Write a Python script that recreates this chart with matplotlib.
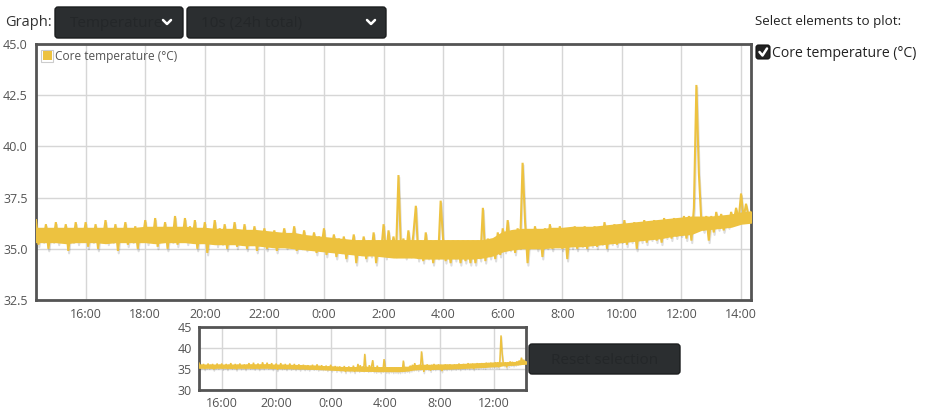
import numpy as np
import matplotlib
matplotlib.use("Agg")
import matplotlib.pyplot as plt
from matplotlib.patches import FancyBboxPatch, Rectangle
import matplotlib.patheffects as pe

plt.rcParams['font.family'] = ['Open Sans', 'DejaVu Sans']

# ---------------- data ----------------
series_name = "Core temperature (°C)"
start_hour = 14 + 20 / 60          # 14:20 on day 1
step_minutes = 5                   # spacing of the trace samples
band_step_minutes = 20             # spacing of the dense-body envelope samples

# trace values (5-min), showing the excursions/spikes
core_temp = [
    # 14:20 - 14:55
    36.4, 35.2, 36.0, 35.4, 36.2, 35.0, 35.9, 35.4,
    # 15:00
    36.3, 35.3, 36.0, 35.5, 36.2, 34.9, 35.9, 35.4, 36.3, 35.3, 36.0, 35.5,
    # 16:00
    36.3, 35.1, 35.9, 35.4, 36.2, 35.0, 36.0, 35.5, 36.4, 35.3, 35.9, 35.4,
    # 17:00
    36.2, 34.9, 36.0, 35.5, 36.3, 35.2, 35.9, 35.4, 36.1, 35.0, 36.0, 35.5,
    # 18:00
    36.4, 35.3, 36.0, 35.4, 36.5, 35.1, 35.9, 35.5, 36.3, 35.0, 36.0, 35.4,
    # 19:00
    36.6, 35.2, 36.0, 35.5, 36.5, 35.3, 36.1, 35.4, 36.4, 35.0, 35.9, 35.4,
    # 20:00
    36.3, 34.8, 35.9, 35.4, 36.4, 35.2, 36.0, 35.3, 36.2, 35.0, 35.9, 35.4,
    # 21:00
    36.3, 35.1, 35.8, 35.3, 36.2, 35.0, 35.9, 35.3, 36.1, 34.9, 35.8, 35.3,
    # 22:00
    36.0, 35.0, 35.8, 35.2, 35.9, 34.9, 35.7, 35.3, 36.0, 35.1, 35.7, 35.2,
    # 23:00
    36.1, 34.9, 35.7, 35.1, 35.9, 35.0, 35.6, 35.1, 35.8, 34.8, 35.6, 35.1,
    # 0:00
    36.0, 34.7, 35.5, 35.0, 35.7, 34.6, 35.5, 34.9, 35.6, 34.5, 35.4, 34.9,
    # 1:00
    35.7, 34.3, 35.4, 34.8, 35.6, 34.5, 35.4, 34.7, 35.8, 34.3, 35.4, 34.8,
    # 2:00
    36.2, 34.6, 35.9, 34.8, 35.6, 34.7, 38.6, 34.9, 35.5, 34.6, 35.9, 34.7,
    # 3:00
    35.7, 37.1, 34.5, 35.4, 34.4, 35.8, 34.6, 35.4, 34.3, 35.4, 34.6, 37.35,
    # 4:00
    35.4, 34.4, 35.4, 34.3, 35.4, 34.5, 35.4, 34.3, 35.4, 34.4, 35.4, 34.3,
    # 5:00
    35.4, 34.3, 35.4, 34.5, 37.0, 34.4, 35.5, 34.6, 35.4, 34.5, 35.8, 34.7,
    # 6:00
    36.0, 34.9, 36.4, 35.0, 35.9, 34.8, 36.0, 35.1, 39.2, 36.3, 34.3, 35.9,
    # 7:00
    35.2, 36.1, 35.0, 35.9, 34.6, 36.0, 35.1, 36.2, 35.0, 35.9, 35.2, 36.1,
    # 8:00
    35.0, 36.0, 34.5, 35.9, 35.1, 36.1, 35.0, 36.0, 35.2, 36.1, 35.0, 35.9,
    # 9:00
    35.2, 36.1, 35.1, 36.0, 35.3, 36.3, 35.0, 36.1, 35.3, 36.2, 35.2, 36.0,
    # 10:00
    35.4, 36.4, 35.2, 36.2, 35.4, 36.3, 35.0, 36.2, 35.4, 36.4, 35.3, 36.3,
    # 11:00
    35.5, 36.4, 35.4, 36.3, 35.3, 36.5, 35.6, 36.4, 35.5, 36.5, 35.6, 36.4,
    # 12:00
    35.7, 36.6, 35.5, 36.6, 35.4, 37.0, 43.0, 38.7, 36.3, 35.9, 36.6, 35.4,
    # 13:00
    36.6, 35.8, 36.8, 36.0, 36.7, 35.9, 36.5, 36.1, 36.8, 36.3, 37.0, 36.4,
    # 14:00 - 14:20
    37.7, 36.5, 37.2, 36.6, 36.8,
]

# dense body of the signal: upper / lower envelope every 20 min
band_high = [
    36.0, 36.0,
    36.0, 36.0, 36.0,      # 15
    36.0, 36.0, 36.0,      # 16
    36.0, 36.0, 36.0,      # 17
    36.05, 36.05, 36.05,   # 18
    36.05, 36.05, 36.0,    # 19
    36.0, 35.95, 35.95,    # 20
    35.95, 35.9, 35.9,     # 21
    35.85, 35.8, 35.75,    # 22
    35.75, 35.65, 35.6,    # 23
    35.55, 35.5, 35.45,    # 0
    35.4, 35.4, 35.4,      # 1
    35.4, 35.4, 35.4,      # 2
    35.4, 35.4, 35.4,      # 3
    35.4, 35.4, 35.4,      # 4
    35.4, 35.4, 35.5,      # 5
    35.8, 35.9, 35.95,     # 6
    35.95, 35.95, 36.0,    # 7
    36.0, 36.05, 36.05,    # 8
    36.05, 36.1, 36.15,    # 9
    36.2, 36.25, 36.3,     # 10
    36.35, 36.4, 36.45,    # 11
    36.5, 36.55, 36.55,    # 12
    36.55, 36.6, 36.65,    # 13
    36.75, 36.8,           # 14
]
band_low = [
    35.35, 35.35,
    35.35, 35.3, 35.35,    # 15
    35.35, 35.35, 35.3,    # 16
    35.35, 35.35, 35.35,   # 17
    35.35, 35.3, 35.35,    # 18
    35.35, 35.35, 35.3,    # 19
    35.3, 35.25, 35.25,    # 20
    35.25, 35.2, 35.2,     # 21
    35.15, 35.1, 35.1,     # 22
    35.05, 35.0, 34.95,    # 23
    34.9, 34.85, 34.8,     # 0
    34.75, 34.7, 34.7,     # 1
    34.65, 34.6, 34.6,     # 2
    34.6, 34.55, 34.55,    # 3
    34.55, 34.55, 34.55,   # 4
    34.55, 34.6, 34.7,     # 5
    34.9, 35.0, 35.05,     # 6
    35.05, 35.05, 35.1,    # 7
    35.1, 35.15, 35.15,    # 8
    35.2, 35.25, 35.3,     # 9
    35.35, 35.4, 35.45,    # 10
    35.5, 35.55, 35.65,    # 11
    35.7, 35.75, 35.95,    # 12
    36.0, 36.05, 36.1,     # 13
    36.25, 36.3,           # 14
]

main_yticks = [32.5, 35.0, 37.5, 40.0, 42.5, 45.0]
main_xticks = [16, 18, 20, 22, 24, 26, 28, 30, 32, 34, 36, 38]
main_xlabels = ["16:00", "18:00", "20:00", "22:00", "0:00", "2:00",
                "4:00", "6:00", "8:00", "10:00", "12:00", "14:00"]
ov_yticks = [30, 35, 40, 45]
ov_xticks = [16, 20, 24, 28, 32, 36]
ov_xlabels = ["16:00", "20:00", "0:00", "4:00", "8:00", "12:00"]
graph_choice = "Temperature"
period_choice = "10s (24h total)"
reset_label = "Reset selection"

# ---------------- figure ----------------
W, H = 925, 419
fig = plt.figure(figsize=(W / 100, H / 100), dpi=100)
fig.patch.set_facecolor("white")

def px_axes(x0, y0, x1, y1, **kw):
    return fig.add_axes([x0 / W, 1 - y1 / H, (x1 - x0) / W, (y1 - y0) / H], **kw)

LINE = "#edc240"
TXT = "#545454"
GRID = "#d6d6d6"
FRAME = "#545454"

t = start_hour + np.arange(len(core_temp)) * step_minutes / 60.0
vals = np.array(core_temp)
tb = start_hour + np.arange(len(band_high)) * band_step_minutes / 60.0
bh = np.array(band_high)
bl = np.array(band_low)
xlim = (start_hour, start_hour + 24)


def draw_series(a, lw, off):
    # shadows first (below everything), then the series itself
    a.plot(t, vals, color=LINE, lw=lw, zorder=2,
           path_effects=[pe.SimpleLineShadow(offset=(off * 0.33, -off),
                                             shadow_color="black", alpha=0.13)])
    a.fill_between(tb, bl, bh, color="none", lw=lw, zorder=2,
                   path_effects=[pe.SimplePatchShadow(offset=(off * 0.33, -off),
                                                      shadow_rgbFace="black", alpha=0.13)])
    a.fill_between(tb, bl, bh, color=LINE, lw=lw, edgecolor=LINE, zorder=3)
    a.plot(t, vals, color=LINE, lw=lw, solid_joinstyle="miter", zorder=4)


# main plot
ax = px_axes(36, 44, 751, 300)
draw_series(ax, 1.5, 1.8)
ax.set_xlim(*xlim)
ax.set_ylim(32.5, 45.0)
ax.set_yticks(main_yticks)
ax.set_yticklabels([f"{v:.1f}" for v in main_yticks])
ax.set_xticks(main_xticks)
ax.set_xticklabels(main_xlabels)
ax.grid(True, color=GRID, lw=1)
ax.tick_params(length=0, labelsize=9, colors=TXT, pad=6)
for s in ax.spines.values():
    s.set_color(FRAME)
    s.set_linewidth(2)

# overview plot
ov = px_axes(199, 327, 526, 390)
draw_series(ov, 1.1, 1.2)
ov.set_xlim(*xlim)
ov.set_ylim(30, 45)
ov.set_yticks(ov_yticks)
ov.set_xticks(ov_xticks)
ov.set_xticklabels(ov_xlabels)
ov.grid(True, color=GRID, lw=1)
ov.tick_params(length=0, labelsize=9, colors=TXT, pad=5)
for s in ov.spines.values():
    s.set_color(FRAME)
    s.set_linewidth(2)

# overlay in pixel coords
ovl = fig.add_axes([0, 0, 1, 1], zorder=10)
ovl.set_xlim(0, W)
ovl.set_ylim(H, 0)
ovl.axis("off")
ovl.patch.set_alpha(0)


def button(x0, y0, x1, y1, label, tx=None, chevron=None):
    ovl.add_patch(FancyBboxPatch((x0, y0), x1 - x0, y1 - y0,
                                 boxstyle="round,pad=0,rounding_size=3",
                                 fc="#2b2e30", ec="#1b1d1e", lw=1))
    if tx is None:
        ovl.text((x0 + x1) / 2, (y0 + y1) / 2 + 1, label, ha="center", va="center",
                 fontsize=11, color="#242729")
    else:
        ovl.text(tx, (y0 + y1) / 2 + 1, label, ha="left", va="center",
                 fontsize=11, color="#242729")
    if chevron is not None:
        cx, cy = chevron
        ovl.plot([cx - 4, cx, cx + 4], [cy - 2, cy + 2, cy - 2], color="white", lw=1.8,
                 solid_capstyle="round", solid_joinstyle="round")


ovl.text(5, 22, "Graph:", ha="left", va="center", fontsize=10.5, color="#333333")
button(55, 7, 183, 38, graph_choice, tx=70, chevron=(167, 22))
button(187, 7, 386, 38, period_choice, tx=201, chevron=(371, 22))
button(529, 344, 680, 374, reset_label)

# legend inside main plot
ovl.add_patch(Rectangle((41, 50), 12, 12, fc="white", ec="#cccccc", lw=0.8))
ovl.add_patch(Rectangle((42.5, 51.5), 9, 9, fc=LINE, ec="none"))
ovl.text(55, 56.5, series_name, ha="left", va="center", fontsize=8.6, color=TXT)

# right side selector
ovl.text(755, 22, "Select elements to plot:", ha="left", va="center", fontsize=9.6, color="#222222")
ovl.add_patch(FancyBboxPatch((756, 45), 14, 14, boxstyle="round,pad=0,rounding_size=2.5",
                             fc="#222222", ec="#111111", lw=0.8))
ovl.plot([759.5, 762.5, 767], [52, 55.5, 48.5], color="white", lw=1.8,
         solid_capstyle="round", solid_joinstyle="round")
ovl.text(772, 53.5, series_name, ha="left", va="center", fontsize=10.1, color="#222222")

fig.savefig("out.png", dpi=100, facecolor="white")
